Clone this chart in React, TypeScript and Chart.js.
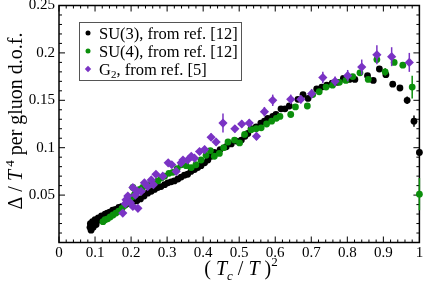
import React, { useEffect, useRef } from "react";
import { Chart, registerables } from "chart.js";
Chart.register(...registerables);

const FONT = '"Liberation Serif", "Times New Roman", serif';

// SU(3), from ref. [12]
const su3X = [0.086, 0.087, 0.089, 0.091, 0.093, 0.095, 0.098, 0.1, 0.103, 0.106, 0.109, 0.113, 0.118, 0.123, 0.128, 0.134, 0.141, 0.149, 0.157, 0.166, 0.175, 0.185, 0.195, 0.206, 0.216, 0.226, 0.236, 0.246, 0.256, 0.265, 0.274, 0.283, 0.293, 0.302, 0.311, 0.32, 0.33, 0.339, 0.348, 0.357, 0.366, 0.376, 0.385, 0.394, 0.404, 0.413, 0.422, 0.431, 0.447, 0.464, 0.478, 0.492, 0.506, 0.516, 0.524, 0.533, 0.547, 0.56, 0.57, 0.579, 0.593, 0.602, 0.616, 0.627, 0.639, 0.663, 0.677, 0.691, 0.715, 0.729, 0.743, 0.758, 0.772, 0.789, 0.806, 0.821, 0.856, 0.872, 0.889, 0.907, 0.926, 0.946, 0.966, 0.985, 1.0];
const su3Y = [0.016, 0.02, 0.013, 0.018, 0.022, 0.016, 0.02, 0.024, 0.019, 0.023, 0.026, 0.024, 0.028, 0.027, 0.03, 0.031, 0.032, 0.034, 0.035, 0.037, 0.038, 0.04, 0.041, 0.043, 0.044, 0.046, 0.049, 0.052, 0.054, 0.056, 0.058, 0.059, 0.061, 0.063, 0.064, 0.065, 0.067, 0.069, 0.071, 0.072, 0.075, 0.077, 0.079, 0.081, 0.084, 0.087, 0.091, 0.095, 0.098, 0.101, 0.104, 0.107, 0.108, 0.112, 0.115, 0.12, 0.122, 0.126, 0.128, 0.131, 0.133, 0.135, 0.141, 0.141, 0.144, 0.151, 0.156, 0.152, 0.162, 0.164, 0.166, 0.168, 0.169, 0.173, 0.172, 0.172, 0.176, 0.171, 0.183, 0.177, 0.167, 0.163, 0.15, 0.128, 0.095];
const su3Err = [0, 0, 0, 0, 0, 0, 0, 0, 0, 0, 0, 0, 0, 0, 0, 0, 0, 0, 0, 0, 0, 0, 0, 0, 0, 0, 0, 0, 0, 0, 0, 0, 0, 0, 0, 0, 0, 0, 0, 0, 0, 0, 0, 0, 0, 0, 0, 0, 0, 0, 0, 0, 0, 0, 0, 0, 0, 0, 0, 0, 0, 0, 0, 0, 0, 0, 0, 0, 0, 0, 0, 0, 0, 0, 0, 0, 0.002, 0.002, 0.002, 0.002, 0.002, 0.003, 0.004, 0.006, 0.004];

// SU(4), from ref. [12]
const su4X = [0.122, 0.128, 0.135, 0.142, 0.15, 0.158, 0.166, 0.175, 0.182, 0.189, 0.196, 0.203, 0.205, 0.21, 0.217, 0.224, 0.232, 0.24, 0.251, 0.262, 0.274, 0.284, 0.293, 0.305, 0.316, 0.328, 0.339, 0.353, 0.367, 0.38, 0.394, 0.408, 0.42, 0.431, 0.445, 0.457, 0.469, 0.487, 0.501, 0.515, 0.533, 0.547, 0.561, 0.576, 0.59, 0.603, 0.613, 0.643, 0.656, 0.689, 0.704, 0.722, 0.741, 0.759, 0.778, 0.796, 0.815, 0.835, 0.858, 0.882, 0.905, 0.93, 0.954, 0.98, 1.0];
const su4Y = [0.022, 0.024, 0.025, 0.027, 0.029, 0.031, 0.033, 0.036, 0.039, 0.042, 0.045, 0.048, 0.058, 0.051, 0.054, 0.056, 0.058, 0.06, 0.061, 0.063, 0.065, 0.068, 0.07, 0.073, 0.074, 0.078, 0.082, 0.081, 0.079, 0.082, 0.087, 0.092, 0.097, 0.091, 0.094, 0.1, 0.106, 0.108, 0.105, 0.114, 0.119, 0.12, 0.121, 0.125, 0.128, 0.131, 0.133, 0.135, 0.143, 0.144, 0.156, 0.159, 0.164, 0.166, 0.169, 0.171, 0.175, 0.179, 0.172, 0.193, 0.18, 0.19, 0.187, 0.164, 0.051];
const su4Err = [0, 0, 0, 0, 0, 0, 0, 0, 0, 0, 0, 0, 0, 0, 0, 0, 0, 0, 0, 0, 0, 0, 0, 0, 0, 0, 0, 0, 0, 0, 0, 0, 0, 0, 0, 0, 0, 0, 0, 0, 0, 0, 0, 0, 0, 0, 0, 0, 0, 0, 0, 0, 0, 0, 0, 0, 0, 0.002, 0.002, 0.003, 0.004, 0.002, 0.003, 0.012, 0.017];

// G2, from ref. [5]
const g2X = [0.177, 0.184, 0.186, 0.191, 0.198, 0.205, 0.205, 0.212, 0.217, 0.219, 0.228, 0.237, 0.246, 0.256, 0.262, 0.269, 0.288, 0.303, 0.313, 0.325, 0.339, 0.344, 0.357, 0.367, 0.376, 0.39, 0.404, 0.422, 0.436, 0.455, 0.488, 0.507, 0.528, 0.548, 0.57, 0.593, 0.643, 0.671, 0.701, 0.732, 0.766, 0.801, 0.84, 0.882, 0.923, 0.972];
const g2Y = [0.031, 0.041, 0.045, 0.049, 0.042, 0.038, 0.058, 0.05, 0.054, 0.036, 0.054, 0.063, 0.059, 0.066, 0.061, 0.072, 0.07, 0.084, 0.082, 0.075, 0.084, 0.087, 0.087, 0.091, 0.089, 0.096, 0.098, 0.111, 0.106, 0.126, 0.12, 0.125, 0.126, 0.112, 0.138, 0.15, 0.151, 0.151, 0.157, 0.174, 0.17, 0.176, 0.185, 0.198, 0.196, 0.19];
const g2Err = [0.003, 0.003, 0.003, 0.003, 0.003, 0.003, 0.003, 0.003, 0.003, 0.003, 0.003, 0.003, 0.003, 0.003, 0.003, 0.003, 0.003, 0.003, 0.003, 0.003, 0.003, 0.003, 0.003, 0.003, 0.003, 0.003, 0.004, 0.004, 0.004, 0.01, 0.004, 0.004, 0.004, 0.004, 0.005, 0.006, 0.005, 0.004, 0.005, 0.006, 0.005, 0.006, 0.008, 0.01, 0.01, 0.01];

const seriesLabels = ["SU(3), from ref. [12]", "SU(4), from ref. [12]", "G2, from ref. [5]"];
const colors = ["#000000", "#0b8f0b", "#7a33c4"];

const xMin = 0, xMax = 1, xMajor = 0.1, xMinor = 0.02;
const yMin = 0, yMax = 0.25, yMajor = 0.05, yMinor = 0.01;

type Seg = { t: string; size: number; italic?: boolean; dy?: number };

function drawRich(ctx: CanvasRenderingContext2D, segs: Seg[], cx: number, cy: number) {
  let total = 0;
  const widths = segs.map((s) => {
    ctx.font = `${s.italic ? "italic " : ""}${s.size}px ${FONT}`;
    const w = ctx.measureText(s.t).width;
    total += w;
    return w;
  });
  let x = cx - total / 2;
  ctx.textAlign = "left";
  ctx.textBaseline = "alphabetic";
  segs.forEach((s, i) => {
    ctx.font = `${s.italic ? "italic " : ""}${s.size}px ${FONT}`;
    ctx.fillText(s.t, x, cy + (s.dy || 0));
    x += widths[i];
  });
}

const errorBars = {
  id: "errorBars",
  beforeDatasetDraw(chart: any, args: any) {
    const ds = chart.data.datasets[args.index];
    const errs: number[] = ds.errs;
    if (!errs) return;
    const { ctx } = chart;
    const xs = chart.scales.x, ys = chart.scales.y;
    ctx.save();
    ctx.strokeStyle = ds.backgroundColor;
    ctx.lineWidth = 1.5;
    ds.data.forEach((p: any, i: number) => {
      const e = errs[i];
      if (!e) return;
      const px = xs.getPixelForValue(p.x);
      ctx.beginPath();
      ctx.moveTo(px, ys.getPixelForValue(p.y - e));
      ctx.lineTo(px, ys.getPixelForValue(p.y + e));
      ctx.stroke();
    });
    ctx.restore();
  },
};

const frame = {
  id: "frame",
  beforeDatasetsDraw(chart: any) {
    const { ctx, chartArea: a } = chart;
    const xs = chart.scales.x, ys = chart.scales.y;
    ctx.save();
    ctx.strokeStyle = "#000";
    ctx.lineWidth = 1;
    const line = (x1: number, y1: number, x2: number, y2: number) => {
      ctx.beginPath();
      ctx.moveTo(x1, y1);
      ctx.lineTo(x2, y2);
      ctx.stroke();
    };
    const nx = Math.round((xMax - xMin) / xMinor);
    const per = Math.round(xMajor / xMinor);
    for (let i = 0; i <= nx; i++) {
      const px = xs.getPixelForValue(xMin + i * xMinor);
      const L = i % per === 0 ? 6 : 3;
      line(px, a.bottom, px, a.bottom - L);
      line(px, a.top, px, a.top + L);
    }
    const ny = Math.round((yMax - yMin) / yMinor);
    const pery = Math.round(yMajor / yMinor);
    for (let i = 0; i <= ny; i++) {
      const py = ys.getPixelForValue(yMin + i * yMinor);
      const L = i % pery === 0 ? 6 : 3;
      line(a.left, py, a.left + L, py);
      line(a.right, py, a.right - L, py);
    }
    ctx.lineWidth = 1.5;
    ctx.strokeRect(a.left, a.top, a.right - a.left, a.bottom - a.top);
    ctx.restore();
  },
};

const decorations = {
  id: "decorations",
  afterDraw(chart: any) {
    const { ctx } = chart;
    ctx.save();
    ctx.fillStyle = "#000";
    // y title
    ctx.save();
    ctx.translate(22, 121);
    ctx.rotate(-Math.PI / 2);
    drawRich(ctx, [
      { t: "\u0394 / ", size: 20 },
      { t: "T", size: 20, italic: true },
      { t: " 4", size: 13, dy: -8 },
      { t: " per gluon d.o.f.", size: 20 },
    ], 0, 0);
    ctx.restore();
    // x title
    drawRich(ctx, [
      { t: "( ", size: 20 },
      { t: "T", size: 20, italic: true },
      { t: "c", size: 13, italic: true, dy: 5 },
      { t: " / ", size: 20 },
      { t: "T", size: 20, italic: true },
      { t: " )", size: 20 },
      { t: "2", size: 13, dy: -9 },
    ], 241, 275);
    // legend
    ctx.fillStyle = "#fff";
    ctx.fillRect(79, 22, 162, 58);
    ctx.strokeStyle = "#555";
    ctx.lineWidth = 1;
    ctx.strokeRect(79.5, 22.5, 162, 58);
    const rows = [33, 51, 69];
    rows.forEach((ry, i) => {
      ctx.fillStyle = colors[i];
      ctx.beginPath();
      if (i < 2) {
        ctx.arc(88, ry, 2.5, 0, Math.PI * 2);
      } else {
        ctx.moveTo(88, ry - 3.2);
        ctx.lineTo(91.2, ry);
        ctx.lineTo(88, ry + 3.2);
        ctx.lineTo(84.8, ry);
        ctx.closePath();
      }
      ctx.fill();
      ctx.fillStyle = "#000";
      ctx.textAlign = "left";
      ctx.textBaseline = "alphabetic";
      if (i < 2) {
        ctx.font = `16.5px ${FONT}`;
        ctx.fillText(seriesLabels[i], 99, ry + 5.5);
      } else {
        ctx.font = `16.5px ${FONT}`;
        ctx.fillText("G", 99, ry + 5.5);
        const gw = ctx.measureText("G").width;
        ctx.font = `11px ${FONT}`;
        ctx.fillText("2", 99 + gw, ry + 9);
        const sw = ctx.measureText("2").width;
        ctx.font = `16.5px ${FONT}`;
        ctx.fillText(seriesLabels[i].slice(2), 99 + gw + sw, ry + 5.5);
      }
    });
    ctx.restore();
  },
};

function pts(xs: number[], ys: number[]) {
  return xs.map((x, i) => ({ x, y: ys[i] }));
}

const fmt = (v: number) => String(Math.round(v * 100) / 100);

export default function App() {
  const ref = useRef<HTMLCanvasElement>(null);
  useEffect(() => {
    const chart = new Chart(ref.current as HTMLCanvasElement, {
      type: "scatter",
      data: {
        datasets: [
          { label: seriesLabels[0], data: pts(su3X, su3Y), errs: su3Err, backgroundColor: colors[0], borderWidth: 0, pointRadius: 3.4, pointStyle: "circle", clip: false, order: 3 } as any,
          { label: seriesLabels[1], data: pts(su4X, su4Y), errs: su4Err, backgroundColor: colors[1], borderWidth: 0, pointRadius: 3.4, pointStyle: "circle", clip: false, order: 2 } as any,
          { label: seriesLabels[2], data: pts(g2X, g2Y), errs: g2Err, backgroundColor: colors[2], borderWidth: 0, pointRadius: 4.6, pointStyle: "rectRot", clip: false, order: 1 } as any,
        ],
      },
      options: {
        responsive: false,
        animation: false,
        devicePixelRatio: 1,
        layout: { padding: { left: 0, top: 5.5, right: 4.5, bottom: 0 } },
        plugins: { legend: { display: false }, tooltip: { enabled: false } },
        scales: {
          x: {
            type: "linear",
            min: xMin,
            max: xMax,
            grid: { display: false, drawTicks: false },
            border: { display: false },
            ticks: {
              stepSize: xMajor,
              autoSkip: false,
              maxRotation: 0,
              padding: 2,
              color: "#000",
              font: { family: FONT, size: 15 },
              callback: (v: any) => fmt(Number(v)),
            },
            afterFit: (s: any) => {
              s.height = 47.5;
              s.paddingLeft = 0;
              s.paddingRight = 0;
            },
          },
          y: {
            type: "linear",
            min: yMin,
            max: yMax,
            grid: { display: false, drawTicks: false },
            border: { display: false },
            ticks: {
              stepSize: yMajor,
              autoSkip: false,
              padding: 4,
              color: "#000",
              font: { family: FONT, size: 15 },
              callback: (v: any) => (Number(v) === 0 ? "" : fmt(Number(v))),
            },
            afterFit: (s: any) => {
              s.width = 59;
              s.paddingTop = 0;
              s.paddingBottom = 0;
            },
          },
        },
      },
      plugins: [errorBars, frame, decorations],
    });
    return () => chart.destroy();
  }, []);
  return (
    <div style={{ position: "absolute", left: 0, top: 0, width: 424, height: 290 }}>
      <canvas ref={ref} width={424} height={290} style={{ display: "block", width: 424, height: 290 }} />
    </div>
  );
}
